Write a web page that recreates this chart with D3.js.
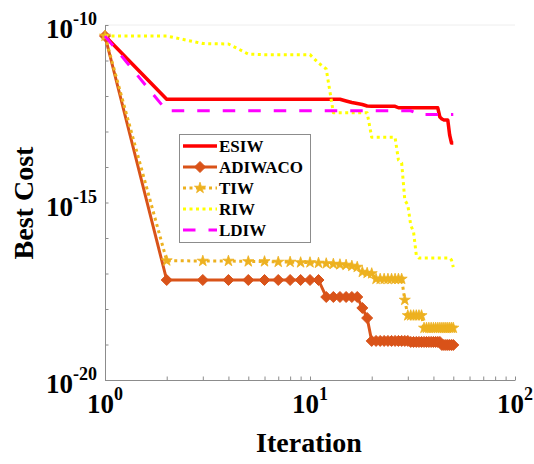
<!DOCTYPE html>
<html>
<head>
<meta charset="utf-8">
<script src="https://cdn.jsdelivr.net/npm/d3@7"></script>
<style>
  body { margin: 0; background: #fff; }
  svg { display: block; }
  text { font-family: "Liberation Serif", "Times New Roman", serif; font-weight: bold; fill: #000; }
</style>
</head>
<body>
<svg id="chart" width="534" height="464"></svg>
<script>
// Iteration index (x) and best cost per iteration for each inertia-weight strategy
const iterations = d3.range(1, 51);

const esiw = [4.9e-11,
  8.07e-13, 8.07e-13, 8.07e-13, 8.07e-13, 8.07e-13, 8.07e-13, 8.07e-13, 8.07e-13, 8.07e-13, 8.07e-13, 8.07e-13, 8.07e-13, 8.07e-13,
  7.23e-13, 6.56e-13, 6.15e-13, 5.76e-13, 5.23e-13,
  5.13e-13, 5.13e-13, 5.13e-13, 5.13e-13, 5.13e-13, 5.13e-13, 5.13e-13,
  4.66e-13, 4.66e-13, 4.66e-13, 4.66e-13, 4.66e-13, 4.66e-13, 4.66e-13, 4.66e-13,
  4.66e-13, 4.66e-13, 4.66e-13, 4.66e-13, 4.66e-13, 4.66e-13, 4.66e-13, 4.66e-13,
  2.56e-13, 2.25e-13, 2.11e-13, 2.11e-13, 2.11e-13, 7.97e-14, 4.74e-14, 4.74e-14];

const adiwaco = [4.9e-11,
  6.56e-18, 6.56e-18, 6.56e-18, 6.56e-18, 6.56e-18, 6.56e-18, 6.56e-18, 6.56e-18, 6.56e-18, 6.56e-18,
  2.18e-18, 2.18e-18, 2.18e-18, 2.18e-18, 2.18e-18, 2.18e-18,
  1.07e-18, 5.57e-19,
  1.26e-19, 1.26e-19, 1.26e-19, 1.26e-19, 1.26e-19, 1.26e-19, 1.26e-19, 1.26e-19, 1.26e-19, 1.26e-19, 1.26e-19,
  1.18e-19, 1.18e-19, 1.18e-19, 1.18e-19, 1.18e-19, 1.18e-19, 1.18e-19, 1.18e-19, 1.18e-19, 1.18e-19, 1.18e-19, 1.18e-19, 1.18e-19,
  9.7e-20, 9.7e-20, 9.7e-20, 9.7e-20, 9.7e-20, 9.7e-20, 9.7e-20];

const tiw = [4.9e-11,
  2.30e-17, 2.25e-17, 2.25e-17, 2.18e-17, 2.18e-17, 2.11e-17, 2.11e-17, 2.04e-17, 2.04e-17,
  1.98e-17, 1.91e-17, 1.85e-17, 1.79e-17, 1.74e-17, 1.63e-17, 1.52e-17,
  1.10e-17, 1.03e-17, 1.0e-17,
  7.0e-18, 7.0e-18, 7.0e-18, 7.0e-18, 7.0e-18, 7.0e-18, 7.0e-18, 7.0e-18,
  1.79e-18,
  6.56e-19, 6.56e-19, 6.56e-19, 6.56e-19, 6.56e-19, 6.56e-19,
  2.92e-19, 2.92e-19, 2.92e-19, 2.92e-19, 2.92e-19, 2.92e-19, 2.92e-19, 2.92e-19,
  2.92e-19, 2.92e-19, 2.92e-19, 2.92e-19, 2.92e-19, 2.92e-19, 2.92e-19];

const riw = [4.9e-11, 4.9e-11, 3.0e-11, 2.92e-11, 1.52e-11,
  1.46e-11, 1.46e-11, 1.46e-11, 1.46e-11, 1.46e-11,
  8.5e-12, 5.77e-12,
  3.39e-13, 3.39e-13, 3.39e-13, 3.39e-13, 3.39e-13, 3.39e-13, 3.39e-13,
  6.87e-14, 6.87e-14, 6.87e-14, 6.87e-14, 6.87e-14, 6.87e-14, 6.87e-14,
  1.57e-14, 1.30e-14, 1.17e-15, 8.5e-16, 2.32e-16, 1.48e-16, 3.32e-17,
  2.73e-17, 2.73e-17, 2.73e-17, 2.73e-17, 2.73e-17, 2.73e-17, 2.73e-17, 2.73e-17,
  2.73e-17, 2.73e-17, 2.73e-17, 2.73e-17, 2.73e-17, 2.73e-17, 2.73e-17,
  2.40e-17, 1.52e-17];

const ldiw = [4.9e-11,
  3.83e-13, 3.83e-13, 3.83e-13, 3.83e-13, 3.83e-13, 3.83e-13, 3.83e-13, 3.83e-13, 3.83e-13, 3.83e-13,
  3.83e-13, 3.83e-13, 3.83e-13, 3.83e-13, 3.83e-13, 3.83e-13, 3.83e-13, 3.83e-13, 3.83e-13, 3.83e-13,
  3.83e-13, 3.83e-13, 3.83e-13, 3.83e-13, 3.83e-13, 3.83e-13, 3.83e-13, 3.83e-13, 3.83e-13, 3.83e-13,
  3.54e-13,
  3.01e-13, 3.01e-13, 3.01e-13, 3.01e-13, 3.01e-13, 3.01e-13, 3.01e-13, 3.01e-13, 3.01e-13,
  3.01e-13, 3.01e-13, 3.01e-13, 3.01e-13, 3.01e-13, 3.01e-13, 3.01e-13, 3.01e-13, 3.01e-13];

const seriesNames = ["ESIW", "ADIWACO", "TIW", "RIW", "LDIW"];
const xTickLabels = [{base: "10", exp: "0", v: 1}, {base: "10", exp: "1", v: 10}, {base: "10", exp: "2", v: 100}];
const yTickLabels = [{base: "10", exp: "-10", v: 1e-10}, {base: "10", exp: "-15", v: 1e-15}, {base: "10", exp: "-20", v: 1e-20}];

const series = [
  {name: seriesNames[0], values: esiw,    color: "#FF0000", width: 3.5, dash: null,      marker: null},
  {name: seriesNames[1], values: adiwaco, color: "#D95319", width: 3,   dash: null,      marker: "diamond"},
  {name: seriesNames[2], values: tiw,     color: "#EDB120", width: 3,   dash: "3,3.5",   marker: "star"},
  {name: seriesNames[3], values: riw,     color: "#FFFF00", width: 3,   dash: "3,3.5",   marker: null},
  {name: seriesNames[4], values: ldiw,    color: "#FF00FF", width: 3,   dash: "12.5,13", marker: null}
];

const svg = d3.select("#chart");
const plotLeft = 105, plotRight = 515, plotTop = 25, plotBottom = 380;

const x = d3.scaleLog().domain([1, 100]).range([plotLeft, plotRight]);
const y = d3.scaleLog().domain([1e-20, 1e-10]).range([plotBottom, plotTop]);

// faint top frame line
svg.append("line").attr("x1", plotLeft).attr("x2", plotRight).attr("y1", plotTop).attr("y2", plotTop)
  .attr("stroke", "#eeeeee").attr("stroke-width", 1);

// x axis: decade and minor ticks pointing inward
const xTicks = [1,2,3,4,5,6,7,8,9,10,20,30,40,50,60,70,80,90,100];
const xAxis = d3.axisBottom(x).tickValues(xTicks).tickSize(-3.5).tickSizeOuter(0).tickFormat("");
const gx = svg.append("g").attr("transform", `translate(0,${plotBottom})`).call(xAxis);

// y axis: one tick per decade, pointing inward
const yTicks = d3.range(-20, -9).map(e => Math.pow(10, e));
const yAxis = d3.axisLeft(y).tickValues(yTicks).tickSize(-3.5).tickSizeOuter(0).tickFormat("");
const gy = svg.append("g").attr("transform", `translate(${plotLeft},0)`).call(yAxis);

[gx, gy].forEach(g => {
  g.select(".domain").attr("stroke", "#8c8c8c").attr("stroke-width", 1);
  g.selectAll(".tick line").attr("stroke", "#8c8c8c").attr("stroke-width", 1);
});

// tick labels with superscript exponents
xTickLabels.forEach(t => {
  const tx = svg.append("text").attr("x", x(t.v)).attr("y", 413)
    .attr("text-anchor", "middle").style("font-size", "27px");
  tx.append("tspan").text(t.base);
  tx.append("tspan").attr("dy", -13).style("font-size", "18px").text(t.exp);
});
yTickLabels.forEach(t => {
  const ty = svg.append("text").attr("x", 97).attr("y", y(t.v) + 13)
    .attr("text-anchor", "end").style("font-size", "27px");
  ty.append("tspan").text(t.base);
  ty.append("tspan").attr("dy", -13).style("font-size", "18px").text(t.exp);
});

// axis titles
svg.append("text").attr("x", 309).attr("y", 452).attr("text-anchor", "middle")
  .style("font-size", "28px").text("Iteration");
svg.append("text").attr("transform", "translate(33,203) rotate(-90)").attr("text-anchor", "middle")
  .style("font-size", "28px").text("Best Cost");

// marker shapes
const diamondPath = "M0,-5.5L5.5,0L0,5.5L-5.5,0Z";
const starPath = d3.symbol().type(d3.symbolStar).size(38)();

function drawMarkers(g, s, pts) {
  if (s.marker === "diamond") {
    g.selectAll(null).data(pts).join("path")
      .attr("d", diamondPath)
      .attr("transform", d => `translate(${d[0]},${d[1]})`)
      .attr("fill", s.color).attr("stroke", s.color).attr("stroke-width", 1);
  } else if (s.marker === "star") {
    g.selectAll(null).data(pts).join("path")
      .attr("d", starPath)
      .attr("transform", d => `translate(${d[0]},${d[1]})`)
      .attr("fill", s.color).attr("stroke", s.color).attr("stroke-width", 0.8);
  }
}

const line = d3.line().x(d => x(d[0])).y(d => y(d[1]));
const plot = svg.append("g");
series.forEach(s => {
  const data = iterations.map((it, i) => [it, s.values[i]]);
  const g = plot.append("g");
  g.append("path").datum(data).attr("d", line)
    .attr("fill", "none").attr("stroke", s.color).attr("stroke-width", s.width)
    .attr("stroke-dasharray", s.dash).attr("stroke-linejoin", "round");
  drawMarkers(g, s, data.map(d => [x(d[0]), y(d[1])]));
});

// legend
const lg = svg.append("g");
lg.append("rect").attr("x", 179.5).attr("y", 134.5).attr("width", 131).attr("height", 108)
  .attr("fill", "#fff").attr("stroke", "#8c8c8c").attr("stroke-width", 1);
series.forEach((s, i) => {
  const cy = 146 + i * 21;
  lg.append("line").attr("x1", 183).attr("x2", 217).attr("y1", cy).attr("y2", cy)
    .attr("stroke", s.color).attr("stroke-width", s.width).attr("stroke-dasharray", s.dash);
  drawMarkers(lg, s, [[200, cy]]);
  lg.append("text").attr("x", 219).attr("y", cy + 6).style("font-size", "17px").text(s.name);
});
</script>
</body>
</html>
